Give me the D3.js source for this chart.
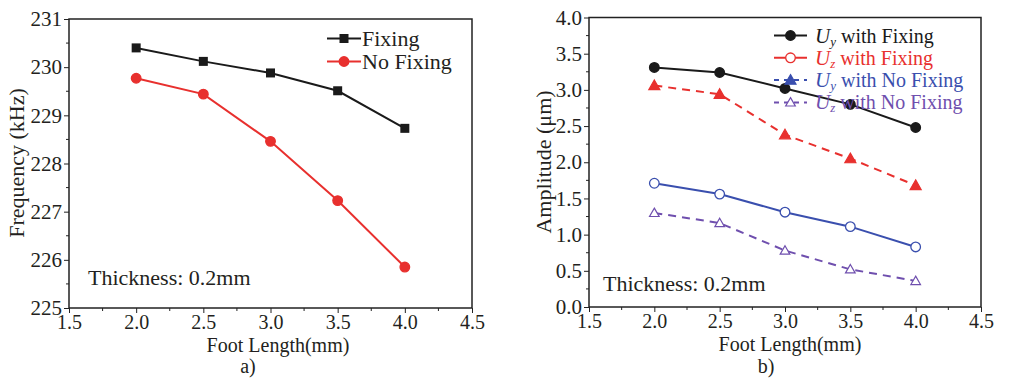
<!DOCTYPE html>
<html>
<head>
<meta charset="utf-8">
<title>Foot length charts</title>
<script src="https://d3js.org/d3.v7.min.js"></script>
<style>
  body { margin: 0; background: #fff; }
  text { font-family: "Liberation Serif", "DejaVu Serif", serif; fill: #231f20; }
</style>
</head>
<body>
<div id="vis"></div>
<script>
// foot lengths (mm)
const footLength = [2.0, 2.5, 3.0, 3.5, 4.0];

// panel a) frequency (kHz)
const freqFixing = [230.40, 230.12, 229.88, 229.51, 228.73];
const freqNoFixing = [229.77, 229.44, 228.46, 227.23, 225.85];

// panel b) amplitude (um)
const uyFixing = [3.31, 3.24, 3.02, 2.80, 2.48];
const uzFixing = [1.71, 1.56, 1.31, 1.11, 0.83];
const uyNoFixing = [3.06, 2.94, 2.38, 2.05, 1.68];
const uzNoFixing = [1.30, 1.16, 0.78, 0.52, 0.36];

const xTicks = [1.5, 2.0, 2.5, 3.0, 3.5, 4.0, 4.5];
const freqTicks = [225, 226, 227, 228, 229, 230, 231];
const ampTicks = [0.0, 0.5, 1.0, 1.5, 2.0, 2.5, 3.0, 3.5, 4.0];

const RED = "#e8302e", BLUE = "#3a4fae", PURPLE = "#6f4fae", BLACK = "#1a1a1a";

const svg = d3.select("#vis").append("svg")
  .attr("width", 1011).attr("height", 378);

// shared drawing of a framed panel with outward ticks
function panel(g, x, y, yTicks, yMinorStep, yFmt) {
  const [x0, x1] = x.range();
  const [y0, y1] = y.range();

  // minor ticks
  const xMinor = d3.range(1.75, 4.5, 0.5);
  g.selectAll(".xm").data(xMinor).join("line")
    .attr("x1", d => x(d)).attr("x2", d => x(d))
    .attr("y1", y0).attr("y2", y0 + 3)
    .attr("stroke", "#222").attr("stroke-width", 1);
  const yMinor = d3.range(y.domain()[0] + yMinorStep, y.domain()[1], yMinorStep * 2);
  g.selectAll(".ym").data(yMinor).join("line")
    .attr("x1", x0).attr("x2", x0 - 3)
    .attr("y1", d => y(d)).attr("y2", d => y(d))
    .attr("stroke", "#222").attr("stroke-width", 1);

  const xAxis = g.append("g").attr("transform", `translate(0,${y0})`)
    .call(d3.axisBottom(x).tickValues(xTicks).tickFormat(d3.format(".1f")).tickSize(5).tickPadding(2));
  const yAxis = g.append("g").attr("transform", `translate(${x0},0)`)
    .call(d3.axisLeft(y).tickValues(yTicks).tickFormat(yFmt).tickSize(5).tickPadding(2));
  [xAxis, yAxis].forEach(a => {
    a.select(".domain").remove();
    a.selectAll("line").attr("stroke", "#222");
    a.selectAll("text").style("font-family", "Liberation Serif").attr("fill", "#231f20");
  });
  xAxis.selectAll("text").attr("font-size", 20);
  yAxis.selectAll("text").attr("font-size", 21);

  // frame
  g.append("rect")
    .attr("x", x0).attr("y", y1)
    .attr("width", x1 - x0).attr("height", y0 - y1)
    .attr("fill", "none").attr("stroke", "#222").attr("stroke-width", 1.5);
}

function marker(g, shape, cx, cy, color, filled) {
  if (shape === "square") {
    g.append("rect").attr("x", cx - 4.5).attr("y", cy - 4.5).attr("width", 9).attr("height", 9)
      .attr("fill", color);
  } else if (shape === "circle") {
    g.append("circle").attr("cx", cx).attr("cy", cy).attr("r", 4.8)
      .attr("fill", filled ? color : "#fff").attr("stroke", color).attr("stroke-width", 1.3);
  } else {
    const s = filled ? 5.5 : 4.8;
    g.append("path")
      .attr("d", `M${cx},${cy - s}L${cx + s},${cy + s * 0.75}L${cx - s},${cy + s * 0.75}Z`)
      .attr("fill", filled ? color : "#fff").attr("stroke", color).attr("stroke-width", 1.2);
  }
}

function series(g, x, y, vals, color, shape, filled, dashed) {
  const line = d3.line().x((d, i) => x(footLength[i])).y(d => y(d));
  g.append("path").datum(vals).attr("d", line)
    .attr("fill", "none").attr("stroke", color).attr("stroke-width", 2)
    .attr("stroke-dasharray", dashed ? "8,6" : null);
  vals.forEach((v, i) => marker(g, shape, x(footLength[i]), y(v), color, filled));
}

// ---------- panel a ----------
const ga = svg.append("g");
const xa = d3.scaleLinear().domain([1.5, 4.5]).range([69, 472]);
const ya = d3.scaleLinear().domain([225, 231]).range([308, 19]);
panel(ga, xa, ya, freqTicks, 0.5, d3.format("d"));
series(ga, xa, ya, freqFixing, BLACK, "square", true, false);
series(ga, xa, ya, freqNoFixing, RED, "circle", true, false);

const legA = [["Fixing", BLACK, "square"], ["No Fixing", RED, "circle"]];
legA.forEach((d, i) => {
  const ly = 38.5 + i * 23;
  ga.append("line").attr("x1", 327).attr("x2", 361).attr("y1", ly).attr("y2", ly)
    .attr("stroke", d[1]).attr("stroke-width", 2);
  marker(ga, d[2], 344, ly, d[1], true);
  ga.append("text").attr("x", 362).attr("y", ly + 7.5).attr("font-size", 22).text(d[0]);
});
ga.append("text").attr("x", 88).attr("y", 285).attr("font-size", 22).text("Thickness: 0.2mm");
ga.append("text").attr("transform", "translate(24,163) rotate(-90)")
  .attr("text-anchor", "middle").attr("font-size", 22).text("Frequency (kHz)");
ga.append("text").attr("x", 278).attr("y", 351.5).attr("text-anchor", "middle")
  .attr("font-size", 20).text("Foot Length(mm)");
ga.append("text").attr("x", 248).attr("y", 372.5).attr("text-anchor", "middle")
  .attr("font-size", 20).text("a)");

// ---------- panel b ----------
const gb = svg.append("g");
const xb = d3.scaleLinear().domain([1.5, 4.5]).range([589, 981]);
const yb = d3.scaleLinear().domain([0, 4]).range([307, 17.5]);
panel(gb, xb, yb, ampTicks, 0.25, d3.format(".1f"));
series(gb, xb, yb, uyFixing, BLACK, "circle", true, false);
series(gb, xb, yb, uyNoFixing, RED, "triangle", true, true);
series(gb, xb, yb, uzFixing, BLUE, "circle", false, false);
series(gb, xb, yb, uzNoFixing, PURPLE, "triangle", false, true);

const legB = [
  ["y", " with Fixing", BLACK, "circle", true, false],
  ["z", " with Fixing", RED, "circle", false, false],
  ["y", " with No Fixing", BLUE, "triangle", true, true],
  ["z", " with No Fixing", PURPLE, "triangle", false, true]
];
legB.forEach((d, i) => {
  const ly = 35.5 + i * 22.3;
  gb.append("line").attr("x1", 774).attr("x2", 807).attr("y1", ly).attr("y2", ly)
    .attr("stroke", d[2]).attr("stroke-width", 2)
    .attr("stroke-dasharray", d[5] ? "5,5" : null);
  marker(gb, d[3], 790.5, ly, d[2], d[4]);
  const t = gb.append("text").attr("x", 815).attr("y", ly + 7).attr("font-size", 20)
    .style("fill", d[2]);
  t.append("tspan").attr("font-style", "italic").attr("font-size", 21).text("U");
  t.append("tspan").attr("font-style", "italic").attr("font-size", 13).attr("dy", 3).text(d[0]);
  t.append("tspan").attr("dy", -3).text(d[1]);
});
gb.append("text").attr("x", 603).attr("y", 291).attr("font-size", 22).text("Thickness: 0.2mm");
gb.append("text").attr("transform", "translate(551,162) rotate(-90)")
  .attr("text-anchor", "middle").attr("font-size", 22).text("Amplitude (μm)");
gb.append("text").attr("x", 790).attr("y", 351).attr("text-anchor", "middle")
  .attr("font-size", 20).text("Foot Length(mm)");
gb.append("text").attr("x", 766).attr("y", 372.5).attr("text-anchor", "middle")
  .attr("font-size", 20).text("b)");
</script>
</body>
</html>
